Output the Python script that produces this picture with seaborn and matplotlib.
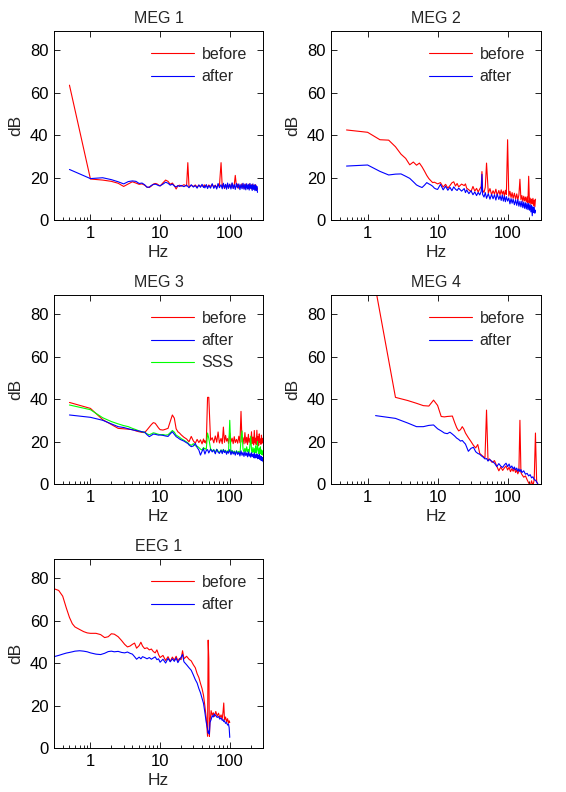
import matplotlib
matplotlib.use("Agg")
import matplotlib.pyplot as plt
import pandas as pd
import seaborn as sns
from matplotlib.lines import Line2D
from matplotlib.ticker import FixedLocator, LogLocator, NullFormatter

# ---------------- data ----------------
freq_meg = [0.5, 1, 1.5, 2, 2.5, 3, 3.5, 4, 4.5, 5,
            5.5, 6, 6.5, 7, 7.5, 8, 8.5, 9, 9.5, 10,
            11, 12, 13, 14, 15, 16, 17, 18, 19, 20,
            22, 24, 25, 26, 28, 30, 32, 34, 36, 38,
            40, 42, 43, 44, 46, 48, 50, 53, 56, 59,
            62, 65, 68, 71, 75, 78, 81, 84, 87, 90,
            93, 96, 100, 104, 108, 112, 116, 120, 125, 130,
            135, 140, 145, 150, 155, 160, 165, 170, 175, 180,
            185, 190, 195, 200, 205, 210, 215, 220, 225, 230,
            235, 240, 245, 250]
freq_meg3 = freq_meg + [255, 260, 265, 270, 275, 280, 285, 290, 295, 300]

meg1_before = [63.5, 19.3, 18.8, 18.2, 17.3, 15.8, 17.0, 18.0, 17.4, 16.8,
               17.0, 16.4, 15.5, 15.3, 16.0, 16.9, 17.2, 17.0, 16.5, 16.0,
               17.5, 18.8, 18.2, 16.8, 17.4, 16.2, 14.6, 16.1, 16.4, 15.9,
               16.6, 16.0, 27.0, 15.6, 16.3, 15.8, 16.5, 15.5, 16.4, 15.9,
               16.2, 15.7, 16.6, 15.9, 16.3, 15.4, 16.5, 15.8, 16.7, 15.6,
               16.4, 15.2, 16.6, 15.9, 27.0, 15.5, 16.8, 14.8, 16.3, 15.4,
               17.0, 15.1, 16.6, 15.3, 17.2, 15.0, 16.5, 21.0, 15.6, 16.9,
               14.9, 16.4, 15.3, 17.1, 15.0, 16.6, 14.7, 16.9, 15.4, 16.2,
               14.8, 17.0, 15.2, 16.5, 14.6, 16.8, 15.1, 16.3, 14.4, 16.7,
               15.0, 16.1, 14.2, 15.0]
meg1_after = [23.8, 19.5, 19.9, 19.0, 18.0, 17.0, 18.1, 18.4, 18.2, 17.2,
              17.4, 16.6, 15.4, 15.5, 16.3, 16.7, 16.9, 16.6, 16.2, 16.1,
              16.9, 17.8, 17.3, 16.4, 16.9, 16.0, 15.6, 16.2, 15.8, 16.3,
              15.7, 16.4, 15.8, 15.2, 16.6, 15.5, 16.2, 15.0, 16.5, 15.4,
              16.8, 15.3, 16.0, 15.1, 16.7, 14.8, 16.2, 15.0, 17.1, 14.9,
              16.3, 14.6, 17.2, 15.2, 16.6, 14.7, 17.3, 15.0, 16.8, 14.5,
              17.4, 14.9, 16.9, 14.6, 17.5, 14.8, 16.7, 14.4, 17.2, 15.1,
              17.0, 14.3, 16.8, 14.7, 17.3, 14.5, 16.9, 14.2, 17.1, 14.6,
              16.7, 14.1, 17.2, 14.8, 16.5, 13.9, 17.0, 14.4, 16.4, 13.8,
              16.6, 14.0, 15.8, 13.0]

meg2_before = [42.4, 41.3, 37.8, 37.6, 34.5, 31.0, 29.0, 26.0, 27.3, 25.8,
               26.8, 25.0, 23.0, 21.0, 19.5, 18.5, 17.6, 17.8, 17.4, 17.0,
               17.6, 15.5, 16.8, 15.0, 16.2, 17.5, 18.0, 16.0, 17.2, 15.6,
               16.9, 16.2, 17.0, 15.0, 14.2, 13.4, 15.8, 13.6, 14.9, 13.2,
               14.6, 15.8, 22.8, 14.0, 13.0, 15.4, 26.8, 12.6, 14.8, 11.9,
               13.8, 12.2, 14.5, 11.6, 13.9, 11.8, 14.2, 12.1, 13.6, 11.3,
               14.0, 12.0, 37.8, 11.2, 13.5, 10.6, 12.9, 10.2, 12.6, 9.8,
               12.3, 9.5, 11.8, 19.2, 9.6, 11.5, 8.8, 11.2, 9.0, 10.8,
               8.5, 10.9, 8.2, 20.6, 8.0, 10.3, 7.4, 9.8, 7.6, 10.2,
               6.8, 9.4, 6.2, 9.8]
meg2_after = [25.4, 25.9, 22.9, 21.2, 21.6, 21.7, 20.6, 19.6, 18.0, 16.5,
              15.8, 15.3, 16.4, 17.6, 17.0, 16.5, 15.9, 15.0, 14.6, 14.4,
              16.8, 14.2, 15.9, 14.0, 15.4, 13.8, 15.6, 14.5, 13.9, 15.0,
              13.6, 14.8, 12.9, 14.2, 12.4, 13.8, 11.9, 13.2, 11.5, 13.0,
              11.8, 13.5, 21.5, 12.0, 10.8, 12.9, 10.2, 12.4, 9.8, 12.1,
              10.0, 11.9, 9.4, 12.2, 9.7, 11.5, 9.2, 11.8, 8.9, 11.2,
              8.6, 11.0, 8.9, 10.4, 7.6, 10.1, 7.9, 9.8, 7.2, 9.5,
              6.9, 9.6, 6.5, 8.8, 6.2, 8.9, 5.8, 8.4, 5.5, 8.1,
              5.2, 7.9, 4.9, 7.8, 4.6, 7.2, 3.8, 6.9, 2.0, 6.2,
              3.5, 6.0, 3.2, 4.6]

meg3_before = [38.4, 35.6, 30.3, 28.0, 26.2, 26.0, 25.8, 25.6, 25.0, 24.6,
               24.3, 24.2, 25.5, 26.8, 28.0, 28.9, 28.6, 27.5, 26.4, 25.6,
               25.4, 25.8, 26.2, 29.5, 32.5, 31.0, 26.0, 24.6, 24.0, 23.2,
               22.0, 21.2, 20.5, 19.9, 22.4, 20.3, 19.2, 21.0, 19.5, 20.8,
               18.9, 21.2, 19.6, 20.4, 19.0, 40.8, 40.8, 20.6, 21.8, 19.4,
               22.6, 19.7, 24.5, 19.3, 21.5, 19.0, 26.8, 19.6, 22.9, 20.2,
               21.4, 19.1, 24.0, 19.8, 21.6, 19.0, 22.3, 19.5, 21.0, 19.2,
               22.5, 19.4, 34.2, 19.8, 21.8, 18.9, 24.2, 19.3, 22.0, 18.6,
               23.4, 19.6, 21.4, 18.8, 24.6, 19.0, 22.1, 18.4, 25.2, 19.3,
               21.6, 18.5, 25.3, 19.1, 22.4, 18.2, 23.6, 19.5, 21.2, 18.7,
               23.0, 19.2, 21.5, 20.8]
meg3_after = [32.5, 31.4, 30.0, 28.3, 27.0, 26.6, 26.0, 25.5, 25.2, 24.9,
              24.6, 24.4, 23.2, 22.3, 22.9, 23.5, 23.4, 23.2, 23.0, 23.1,
              22.9, 22.6, 22.4, 23.6, 24.6, 23.4, 22.3, 21.8, 21.2, 20.8,
              20.2, 19.4, 19.1, 18.4, 17.6, 17.9, 19.1, 17.2, 16.0, 13.6,
              15.4, 16.7, 15.2, 14.1, 15.8, 16.2, 14.6, 16.4, 15.1, 16.0,
              14.2, 16.3, 15.0, 14.4, 15.9, 14.3, 16.1, 14.8, 15.6, 14.0,
              15.4, 14.5, 16.2, 13.8, 15.5, 14.1, 15.2, 13.6, 15.4, 13.9,
              15.0, 13.2, 15.6, 13.5, 14.9, 13.0, 15.2, 13.4, 14.6, 12.8,
              15.1, 13.1, 14.3, 12.6, 14.8, 12.9, 14.0, 12.4, 14.6, 12.2,
              13.8, 12.5, 14.2, 11.9, 13.5, 12.0, 13.9, 11.6, 13.2, 11.2,
              13.0, 11.0, 12.4, 10.5]
meg3_sss = [37.2, 35.0, 31.2, 29.4, 28.3, 27.5, 27.0, 26.2, 25.6, 25.0,
            24.6, 24.4, 23.6, 23.2, 23.6, 24.1, 23.9, 23.6, 23.4, 23.2,
            23.3, 23.0, 23.2, 24.2, 25.2, 24.4, 23.0, 22.5, 22.0, 21.4,
            20.6, 19.8, 19.4, 18.8, 18.2, 19.0, 18.0, 17.8, 17.2, 16.4,
            16.0, 17.2, 16.6, 16.8, 16.2, 24.0, 21.5, 16.6, 15.6, 16.2,
            14.8, 16.4, 15.5, 14.8, 16.1, 14.9, 16.3, 15.2, 15.9, 14.6,
            15.6, 15.0, 30.0, 14.4, 15.8, 14.6, 15.5, 14.2, 15.7, 14.5,
            15.4, 13.9, 21.0, 25.0, 16.4, 15.1, 16.8, 15.0, 17.5, 15.2,
            16.3, 14.8, 18.5, 22.5, 16.0, 14.9, 17.2, 15.0, 16.6, 14.7,
            18.0, 14.6, 16.4, 20.0, 15.5, 14.3, 16.8, 14.4, 17.5, 14.2,
            16.0, 13.8, 15.6, 13.6]

freq_meg4 = [1.3, 2.5, 3.75, 5, 6.25, 7.5, 8.75, 10,
             11.25, 12.5, 13.75, 15, 16.25, 17.5, 18.75, 20,
             21.25, 22.5, 23.75, 25, 27.5, 30, 32.5, 35, 37.5, 40,
             42.5, 45, 47.5, 50, 52.5, 55, 60, 65, 70, 75,
             80, 85, 90, 95, 100, 105, 110, 115, 120, 125,
             130, 135, 140, 145, 150, 155, 160, 170, 180, 190,
             200, 210, 220, 230, 240, 250, 260, 270]
meg4_before = [92.0, 40.8, 39.3, 38.0, 36.9, 36.7, 39.5, 37.0,
               31.8, 31.6, 31.8, 31.9, 32.0, 29.0, 26.5, 25.0,
               25.6, 27.0, 25.8, 24.0, 21.8, 20.0, 18.2, 17.0, 18.6, 14.4,
               13.6, 12.9, 12.2, 34.8, 11.0, 11.8, 10.2, 11.0, 8.4, 6.2,
               8.0, 6.4, 7.6, 8.5, 6.6, 7.9, 5.8, 7.2, 6.0, 7.4,
               5.4, 6.5, 4.8, 6.2, 30.0, 5.4, 4.5, 3.2, 3.8, 2.0,
               0.5, -1.0, 1.5, -0.8, 2.0, 24.0, 1.0, 0.0]
meg4_after = [32.2, 30.9, 28.7, 27.0, 27.0, 27.6, 27.8, 26.0,
              25.0, 24.0, 23.7, 24.4, 23.5, 22.6, 21.6, 21.0,
              20.2, 20.5, 19.6, 18.8, 15.4, 16.8, 17.3, 15.2, 14.4, 14.0,
              13.2, 12.6, 11.8, 12.0, 10.8, 11.6, 10.6, 9.8, 8.2, 9.6,
              8.4, 7.8, 9.0, 9.8, 8.2, 9.4, 7.6, 8.5, 7.0, 8.0,
              6.6, 7.5, 6.0, 7.1, 5.8, 6.8, 5.4, 6.2, 4.6, 5.0,
              3.8, 4.4, 2.9, 3.4, 2.0, 1.8, 1.0, 0.0]

freq_eeg = [0.3, 0.35, 0.4, 0.45, 0.5, 0.55, 0.6, 0.7, 0.8, 0.9,
            1.0, 1.2, 1.4, 1.6, 1.8, 2.0, 2.2, 2.5, 2.8, 3.1,
            3.4, 3.7, 4.0, 4.3, 4.6, 5.0, 5.3, 5.6, 6.0, 6.5,
            7.0, 7.5, 8.0, 8.5, 9.0, 9.5, 10, 11, 12, 13,
            14, 15, 16, 17, 18, 19, 20, 21, 22, 24,
            26, 28, 30, 32, 34, 36, 38, 40, 42, 44,
            46, 48, 49, 50, 51, 52, 54, 56, 58, 60,
            63, 66, 69, 72, 75, 78, 80, 82, 84, 87,
            90, 93, 96, 98, 100]
eeg_before = [75.0, 74.2, 71.5, 66.0, 61.5, 58.5, 57.0, 55.8, 54.8, 54.2,
              54.0, 54.0, 53.4, 52.0, 52.4, 53.8, 53.6, 52.4, 50.6, 48.8,
              47.6, 48.0, 48.8, 49.4, 47.0, 48.2, 49.8, 48.0, 46.8, 47.2,
              46.2, 46.6, 45.4, 44.8, 46.2, 44.0, 42.6, 43.6, 41.2, 43.0,
              40.8, 42.8, 41.4, 43.2, 41.0, 42.2, 41.6, 45.8, 42.0, 43.2,
              41.8, 41.0, 39.2, 37.8, 35.0, 33.2, 30.4, 28.0, 24.8, 19.6,
              14.0, 5.5, 50.8, 42.0, 5.5, 12.0, 17.6, 15.4, 16.6, 14.8,
              17.2, 15.0, 16.4, 14.2, 15.6, 13.8, 16.8, 21.2, 13.2, 14.6,
              12.4, 13.8, 11.6, 12.8, 12.0]
eeg_after = [43.0, 43.6, 44.2, 44.7, 45.0, 45.3, 45.6, 45.8, 45.6, 45.3,
             44.8, 44.2, 44.0, 44.6, 45.4, 45.6, 45.3, 45.5, 45.0, 44.8,
             45.2, 44.6, 44.2, 43.0, 41.8, 42.8, 42.0, 43.0, 42.6, 42.0,
             42.6, 41.8, 42.4, 42.9, 41.6, 42.0, 40.4, 41.8, 40.0, 42.2,
             40.6, 42.0, 40.8, 42.4, 40.2, 41.6, 42.8, 44.0, 40.6, 39.2,
             37.8, 36.6, 34.4, 32.2, 30.6, 28.0, 26.0, 23.4, 21.0, 16.6,
             12.0, 9.0, 7.0, 8.0, 6.5, 12.0, 13.4, 15.2, 14.6, 16.0,
             15.2, 14.4, 14.8, 13.6, 14.2, 13.0, 13.4, 12.4, 12.8, 11.6,
             12.0, 10.8, 11.2, 9.6, 5.0]

titles = ["MEG 1", "MEG 2", "MEG 3", "MEG 4", "EEG 1"]
y_ticks = [0, 20, 40, 60, 80]
x_ticks = [1, 10, 100]
x_tick_labels = ["1", "10", "100"]
colors = {"before": "#ff0000", "after": "#0000ff", "SSS": "#00ff00"}

# ---------------- figure ----------------
sns.set_style("ticks")
plt.rcParams["font.family"] = ["Liberation Sans", "DejaVu Sans"]
plt.rcParams["axes.edgecolor"] = "black"

W, H = 566, 792
fig = plt.figure(figsize=(W / 100, H / 100), dpi=100)


def box(left, top, right, bottom):
    return [left / W, 1 - bottom / H, (right - left) / W, (bottom - top) / H]


panels = [
    (titles[0], box(54, 31, 263, 220), freq_meg,
     [("before", meg1_before), ("after", meg1_after)], ["before", "after"]),
    (titles[1], box(331, 31, 541, 220), freq_meg,
     [("before", meg2_before), ("after", meg2_after)], ["before", "after"]),
    (titles[2], box(54, 295, 263, 484), freq_meg3,
     [("before", meg3_before), ("SSS", meg3_sss), ("after", meg3_after)],
     ["before", "after", "SSS"]),
    (titles[3], box(331, 295, 541, 484), freq_meg4,
     [("before", meg4_before), ("after", meg4_after)], ["before", "after"]),
    (titles[4], box(54, 559, 263, 748), freq_eeg,
     [("before", eeg_before), ("after", eeg_after)], ["before", "after"]),
]

for title, pos, freq, series, legend_order in panels:
    ax = fig.add_axes(pos)
    frames = []
    for name, vals in series:
        assert len(vals) == len(freq), (title, name, len(vals), len(freq))
        frames.append(pd.DataFrame({"Hz": freq, "dB": vals, "trace": name}))
    df = pd.concat(frames, ignore_index=True)
    draw_order = [n for n, _ in series]
    sns.lineplot(data=df, x="Hz", y="dB", hue="trace", hue_order=draw_order,
                 palette=colors, estimator=None, linewidth=0.8, ax=ax,
                 legend=False)
    ax.set_xscale("log")
    ax.set_xlim(0.3, 300)
    ax.set_ylim(0, 89)
    ax.xaxis.set_major_locator(FixedLocator(x_ticks))
    ax.set_xticklabels(x_tick_labels)
    ax.xaxis.set_minor_locator(LogLocator(base=10, subs=range(2, 10)))
    ax.xaxis.set_minor_formatter(NullFormatter())
    ax.set_yticks(y_ticks)
    ax.tick_params(which="both", direction="in", top=True, right=True,
                   labelsize=12, colors="black", width=0.6)
    ax.tick_params(which="major", length=4, pad=4)
    ax.tick_params(which="minor", length=2, top=False)
    for sp in ax.spines.values():
        sp.set_visible(True)
        sp.set_linewidth(0.7)
        sp.set_color("black")
    ax.set_xlabel("Hz", fontsize=12.5, labelpad=3)
    ax.set_ylabel("dB", fontsize=12.5, labelpad=5)
    ax.set_title(title, fontsize=11.5, pad=6)
    handles = [Line2D([], [], color=colors[n], linewidth=0.8) for n in legend_order]
    ax.legend(handles, legend_order, loc="upper right", frameon=False,
              fontsize=11.5, handlelength=2.7, handletextpad=0.45,
              labelspacing=0.45, borderaxespad=0.6)

fig.savefig("out.png", dpi=100, facecolor="white")
